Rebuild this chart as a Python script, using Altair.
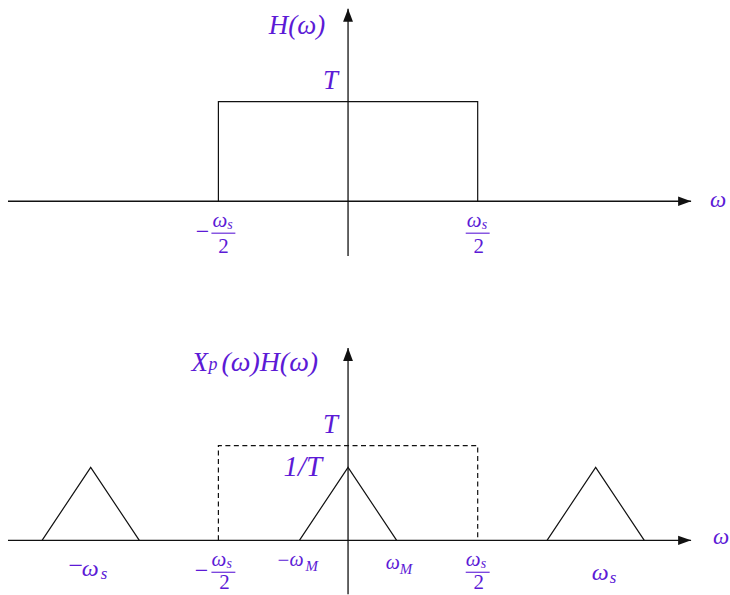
import altair as alt
import pandas as pd

# ---- values (frequency in units of omega_s/2, amplitude in units of T) ----
PASS_EDGES = [-1.0, 1.0]            # -ω_s/2, ω_s/2
GAIN_T = 1.0                        # filter gain T
SPEC_PEAK = 0.77                    # 1/T
SPEC_CENTERS = [-1.985, 0.0, 1.91]  # -ω_s, 0, ω_s
SPEC_HALF = 0.375                   # ω_M
W_AXIS = [-2.623, 2.646]            # extent of the ω axis
V_AXIS_TOP = [-0.55, 1.93]
V_AXIS_BOT = [-0.5684, 2.03]

PURPLE = "#5c1ad6"
INK = "#111111"
FONT = "Liberation Serif"

XS = alt.Scale(domain=[-2.6846, 2.9308], nice=False, zero=False)
YS_TOP = alt.Scale(domain=[-0.96, 2.01], nice=False, zero=False)
YS_BOT = alt.Scale(domain=[-0.5684, 2.5684], nice=False, zero=False)

ARROW_RIGHT = "M0,0L-2,-0.72L-2,0.72Z"
ARROW_UP = "M0,0L-0.76,2L0.76,2Z"


def enc(chart, ys, order=False, detail=False):
    kw = dict(x=alt.X("x:Q", scale=XS, axis=None), y=alt.Y("y:Q", scale=ys, axis=None))
    if order:
        kw["order"] = alt.Order("i:Q")
    if detail:
        kw["detail"] = alt.Detail("g:N")
    return chart.encode(**kw)


def axes(ys, vext):
    h = pd.DataFrame({"x": W_AXIS, "y": [0, 0]})
    v = pd.DataFrame({"x": [0, 0], "y": vext})
    hline = enc(alt.Chart(h).mark_line(color=INK, strokeWidth=1.3), ys)
    vline = enc(alt.Chart(v).mark_line(color=INK, strokeWidth=1.3), ys)
    ha = enc(alt.Chart(pd.DataFrame({"x": [W_AXIS[1]], "y": [0]})).mark_point(
        shape=ARROW_RIGHT, size=169, filled=True, color=INK, opacity=1, strokeWidth=0), ys)
    va = enc(alt.Chart(pd.DataFrame({"x": [0], "y": [vext[1]]})).mark_point(
        shape=ARROW_UP, size=169, filled=True, color=INK, opacity=1, strokeWidth=0), ys)
    return [hline, vline, ha, va]


def box(ys, dash=None):
    df = pd.DataFrame({
        "x": [PASS_EDGES[0], PASS_EDGES[0], PASS_EDGES[1], PASS_EDGES[1]],
        "y": [0, GAIN_T, GAIN_T, 0],
        "i": [0, 1, 2, 3],
    })
    kw = dict(color=INK, strokeWidth=1.2)
    if dash:
        kw["strokeDash"] = dash
    return enc(alt.Chart(df).mark_line(**kw), ys, order=True)


def label(text, x, y, ys, dx, dy, size, italic=True, align="left"):
    df = pd.DataFrame({"x": [x], "y": [y], "t": [text]})
    return alt.Chart(df).mark_text(
        align=align, baseline="alphabetic", dx=dx, dy=dy, fontSize=size, font=FONT,
        fontStyle="italic" if italic else "normal", color=PURPLE,
    ).encode(x=alt.X("x:Q", scale=XS, axis=None), y=alt.Y("y:Q", scale=ys, axis=None), text="t:N")


def frac_bar(x, ys, x0, x1, off):
    df = pd.DataFrame({"x": [x], "x2": [x], "y": [0]})
    return alt.Chart(df).mark_rule(
        color=PURPLE, strokeWidth=1.1, xOffset=x0, x2Offset=x1, yOffset=off
    ).encode(x=alt.X("x:Q", scale=XS, axis=None), x2="x2:Q", y=alt.Y("y:Q", scale=ys, axis=None))


def half_omega_s(x, ys, negative, num_dy, sub_dy, bar_dy, two_dy, dxs):
    parts = []
    if negative:
        parts.append(label("\u2212", x, 0, ys, dxs["minus"], bar_dy + 6, 24, italic=False, align="center"))
    parts.append(label("\u03c9", x, 0, ys, dxs["w"], num_dy, 21))
    parts.append(label("s", x, 0, ys, dxs["s"], sub_dy, 14))
    parts.append(frac_bar(x, ys, dxs["b0"], dxs["b1"], bar_dy))
    parts.append(label("2", x, 0, ys, dxs["two"], two_dy, 21, italic=False, align="center"))
    return parts


# ---------------- top panel: H(ω) ----------------
top_layers = axes(YS_TOP, V_AXIS_TOP) + [box(YS_TOP)]
top_layers += [
    label("H(\u03c9)", 0, GAIN_T, YS_TOP, -23, -68, 27, align="right"),
    label("T", 0, GAIN_T, YS_TOP, -10, -13, 27, align="right"),
    label("\u03c9", W_AXIS[1], 0, YS_TOP, 19, 6, 23),
]
top_layers += half_omega_s(PASS_EDGES[0], YS_TOP, True, 26, 28, 32, 52,
                           dict(minus=-16, w=-6, s=9, b0=-7, b1=17, two=5))
top_layers += half_omega_s(PASS_EDGES[1], YS_TOP, False, 26, 28, 32, 52,
                           dict(w=-11, s=4, b0=-12, b1=12, two=1))
top = alt.layer(*top_layers).properties(width=730, height=297)

# ---------------- bottom panel: X_p(ω)H(ω) ----------------
tri_x, tri_y, tri_g, tri_i = [], [], [], []
for k, c in enumerate(SPEC_CENTERS):
    for j, (xx, yy) in enumerate([(c - SPEC_HALF, 0), (c, SPEC_PEAK), (c + SPEC_HALF, 0)]):
        tri_x.append(xx)
        tri_y.append(yy)
        tri_g.append(k)
        tri_i.append(j)
tri = enc(alt.Chart(pd.DataFrame({"x": tri_x, "y": tri_y, "g": tri_g, "i": tri_i}))
          .mark_line(color=INK, strokeWidth=1.2), YS_BOT, order=True, detail=True)

bot_layers = axes(YS_BOT, V_AXIS_BOT) + [box(YS_BOT, dash=[5, 3.5]), tri]
bot_layers += [
    label("X", 0, GAIN_T, YS_BOT, -157, -75, 27),
    label("p", 0, GAIN_T, YS_BOT, -140, -76, 18),
    label("(\u03c9)H(\u03c9)", 0, GAIN_T, YS_BOT, -127, -75, 28),
    label("T", 0, GAIN_T, YS_BOT, -10, -13, 27, align="right"),
    label("1/T", 0, GAIN_T, YS_BOT, -26, 30, 29, align="right"),
    label("\u03c9", W_AXIS[1], 0, YS_BOT, 22, 4, 23),
    # -ω_s
    label("\u2212", SPEC_CENTERS[0], 0, YS_BOT, -15, 34, 26, italic=False, align="center"),
    label("\u03c9", SPEC_CENTERS[0], 0, YS_BOT, -9, 36, 24),
    label("s", SPEC_CENTERS[0], 0, YS_BOT, 10, 39, 17),
    # -ω_M
    label("\u2212", -SPEC_HALF, 0, YS_BOT, -16, 27, 21, italic=False, align="center"),
    label("\u03c9", -SPEC_HALF, 0, YS_BOT, -10, 26, 20),
    label("M", -SPEC_HALF, 0, YS_BOT, 6, 31, 15),
    # ω_M
    label("\u03c9", SPEC_HALF, 0, YS_BOT, -11, 29, 20),
    label("M", SPEC_HALF, 0, YS_BOT, 3, 34, 15),
    # ω_s
    label("\u03c9", SPEC_CENTERS[2], 0, YS_BOT, -4, 40, 24),
    label("s", SPEC_CENTERS[2], 0, YS_BOT, 14, 43, 17),
]
bot_layers += half_omega_s(PASS_EDGES[0], YS_BOT, True, 26, 28, 32, 49,
                           dict(minus=-17, w=-7, s=8, b0=-7, b1=17, two=6))
bot_layers += half_omega_s(PASS_EDGES[1], YS_BOT, False, 26, 28, 32, 49,
                           dict(w=-12, s=3, b0=-12, b1=12, two=1))
bottom = alt.layer(*bot_layers).properties(width=730, height=298)

chart = (
    alt.vconcat(top, bottom, spacing=0)
    .properties(padding=0, background="white")
    .configure_view(stroke=None)
)

chart.save("out.html", embed_options={"renderer": "svg", "actions": False})
